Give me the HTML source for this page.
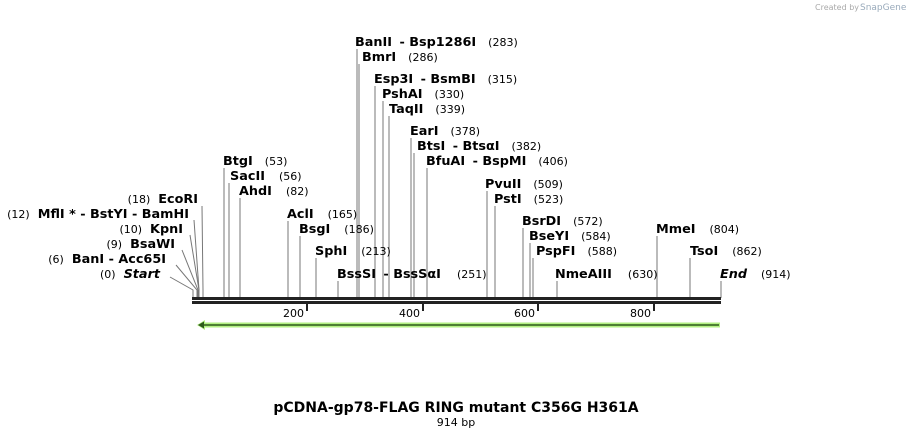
<!DOCTYPE html>
<html><head><meta charset="utf-8"><style>
html,body{margin:0;padding:0;background:#fff;}
svg{display:block;font-family:"DejaVu Sans","Liberation Sans",sans-serif;}
.n{font-weight:bold;font-size:12.8px;fill:#000}
.p{font-size:11px;fill:#000;font-weight:normal}
.l{stroke:#777;stroke-width:1;fill:none}
</style></head><body>
<svg width="913" height="438" viewBox="0 0 913 438">
<text x="815" y="10" font-size="8" fill="#aaa">Created by</text><text x="860" y="10" font-size="9" fill="#9ab">SnapGene</text>
<g class="l">
<line x1="357" y1="49" x2="357" y2="298"/>
<line x1="359" y1="64" x2="359" y2="298"/>
<line x1="375" y1="86" x2="375" y2="298"/>
<line x1="383" y1="101" x2="383" y2="298"/>
<line x1="389" y1="116" x2="389" y2="298"/>
<line x1="411" y1="138" x2="411" y2="298"/>
<line x1="414" y1="153" x2="414" y2="298"/>
<line x1="427" y1="168" x2="427" y2="298"/>
<line x1="487" y1="191" x2="487" y2="298"/>
<line x1="495" y1="206" x2="495" y2="298"/>
<line x1="523" y1="228" x2="523" y2="298"/>
<line x1="530" y1="243" x2="530" y2="298"/>
<line x1="533" y1="258" x2="533" y2="298"/>
<line x1="557" y1="281" x2="557" y2="298"/>
<line x1="657" y1="236" x2="657" y2="298"/>
<line x1="690" y1="258" x2="690" y2="298"/>
<line x1="721" y1="281" x2="721" y2="298"/>
<line x1="224" y1="168" x2="224" y2="298"/>
<line x1="229" y1="183" x2="229" y2="298"/>
<line x1="240" y1="198" x2="240" y2="298"/>
<line x1="288" y1="221" x2="288" y2="298"/>
<line x1="300" y1="236" x2="300" y2="298"/>
<line x1="316" y1="258" x2="316" y2="298"/>
<line x1="338" y1="281" x2="338" y2="298"/>
<polyline points="202,206 203,290 203,298"/>
<polyline points="194,220 199,290 199,298"/>
<polyline points="190,235 199,290 199,298"/>
<polyline points="182,250 198,290 198,298"/>
<polyline points="176,265 197,290 197,298"/>
<polyline points="170,277 193,290 193,298"/>
</g>
<g>
<text x="355" y="46" class="n">BanII <tspan dx="3">- Bsp1286I</tspan><tspan class="p" dx="12">(283)</tspan></text>
<text x="362" y="61" class="n">BmrI<tspan class="p" dx="12">(286)</tspan></text>
<text x="374" y="83" class="n">Esp3I <tspan dx="3">- BsmBI</tspan><tspan class="p" dx="12">(315)</tspan></text>
<text x="382" y="98" class="n">PshAI<tspan class="p" dx="12">(330)</tspan></text>
<text x="389" y="113" class="n">TaqII<tspan class="p" dx="12">(339)</tspan></text>
<text x="410" y="135" class="n">EarI<tspan class="p" dx="12">(378)</tspan></text>
<text x="417" y="150" class="n">BtsI <tspan dx="3">- BtsαI</tspan><tspan class="p" dx="12">(382)</tspan></text>
<text x="426" y="165" class="n">BfuAI <tspan dx="3">- BspMI</tspan><tspan class="p" dx="12">(406)</tspan></text>
<text x="485" y="188" class="n">PvuII<tspan class="p" dx="12">(509)</tspan></text>
<text x="494" y="203" class="n">PstI<tspan class="p" dx="12">(523)</tspan></text>
<text x="522" y="225" class="n">BsrDI<tspan class="p" dx="12">(572)</tspan></text>
<text x="529" y="240" class="n">BseYI<tspan class="p" dx="12">(584)</tspan></text>
<text x="536" y="255" class="n">PspFI<tspan class="p" dx="12">(588)</tspan></text>
<text x="555" y="278" class="n">NmeAIII<tspan class="p" dx="16">(630)</tspan></text>
<text x="656" y="233" class="n">MmeI<tspan class="p" dx="14">(804)</tspan></text>
<text x="690" y="255" class="n">TsoI<tspan class="p" dx="14">(862)</tspan></text>
<text x="720" y="278" class="n" font-style="italic">End<tspan class="p" font-style="normal" dx="14">(914)</tspan></text>
<text x="223" y="165" class="n">BtgI<tspan class="p" dx="12">(53)</tspan></text>
<text x="230" y="180" class="n">SacII<tspan class="p" dx="14">(56)</tspan></text>
<text x="239" y="195" class="n">AhdI<tspan class="p" dx="14">(82)</tspan></text>
<text x="287" y="218" class="n">AclI<tspan class="p" dx="14">(165)</tspan></text>
<text x="299" y="233" class="n">BsgI<tspan class="p" dx="14">(186)</tspan></text>
<text x="315" y="255" class="n">SphI<tspan class="p" dx="14">(213)</tspan></text>
<text x="337" y="278" class="n">BssSI <tspan dx="3">- BssSαI</tspan><tspan class="p" dx="16">(251)</tspan></text>
<text x="198" y="203" text-anchor="end" class="n"><tspan class="p">(18)</tspan><tspan dx="8">EcoRI</tspan></text>
<text x="189" y="218" text-anchor="end" class="n"><tspan class="p">(12)</tspan><tspan dx="8">MflI * - BstYI  - BamHI</tspan></text>
<text x="183" y="233" text-anchor="end" class="n"><tspan class="p">(10)</tspan><tspan dx="8">KpnI</tspan></text>
<text x="175" y="248" text-anchor="end" class="n"><tspan class="p">(9)</tspan><tspan dx="8">BsaWI</tspan></text>
<text x="166" y="263" text-anchor="end" class="n"><tspan class="p">(6)</tspan><tspan dx="8">BanI  - Acc65I</tspan></text>
<text x="160" y="278" text-anchor="end" class="n"><tspan class="p">(0)</tspan><tspan dx="8" font-style="italic">Start</tspan></text>
</g>
<rect x="192" y="297" width="529" height="3" fill="#222"/>
<rect x="192" y="301" width="529" height="3" fill="#222"/>
<g fill="#222">
<rect x="306" y="304" width="2" height="7"/><rect x="422" y="304" width="2" height="7"/><rect x="537" y="304" width="2" height="7"/><rect x="653" y="304" width="2" height="7"/>
</g>
<g font-size="11" text-anchor="end" fill="#000">
<text x="304" y="317">200</text><text x="420" y="317">400</text><text x="535" y="317">600</text><text x="651" y="317">800</text>
</g>
<path d="M197,325 L205,320 L205,322.5 L720,322.5 L720,327.5 L205,327.5 L205,330 Z" fill="#b2ef82"/>
<line x1="200" y1="325" x2="719" y2="325" stroke="#2d5a1a" stroke-width="1.5"/>
<path d="M198,325 L204,321.5 L204,328.5 Z" fill="#2d5a1a"/>
<text x="456" y="412" text-anchor="middle" font-weight="bold" font-size="14">pCDNA-gp78-FLAG RING mutant C356G H361A</text>
<text x="456" y="426" text-anchor="middle" font-size="11">914 bp</text>
</svg>
</body></html>
